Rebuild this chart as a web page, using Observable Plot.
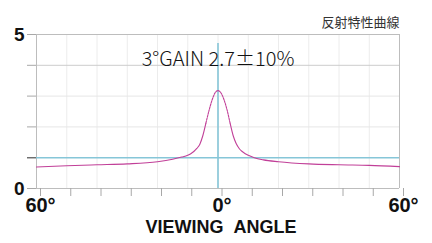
<!DOCTYPE html>
<html><head><meta charset="utf-8">
<script src="https://cdn.jsdelivr.net/npm/d3@7"></script>
<script src="https://cdn.jsdelivr.net/npm/@observablehq/plot@0.6"></script>
<style>body{margin:0;background:#fff}svg{display:block}</style>
</head><body>
<div id="chart"></div>
<script>
const angles = [-60,-50,-40,-30,-20,-15,-12,-10,-9,-8,-7,-6,-5,-4,-3,-2,-1,0,1,2,3,4,5,6,7,8,9,10,12,15,20,30,40,50,60];
const gains  = [0.70,0.74,0.77,0.80,0.87,0.95,1.02,1.08,1.13,1.2,1.3,1.44,1.72,2.12,2.52,2.86,3.1,3.18,3.1,2.88,2.55,2.12,1.72,1.46,1.3,1.2,1.13,1.08,1.0,0.93,0.87,0.80,0.77,0.75,0.71];
const xTicks = [-60,-50,-40,-30,-20,-10,0,10,20,30,40,50,60];
const xLabelTicks = [-60,0,60];
const yTicks = [0,1,2,3,4,5];
const yLabelTicks = [0,5];
const refGain = 1;
const refAngle = 0;
const titleText = "3°GAIN 2.7±10%";
const cornerText = "反射特性曲線";
const xLabel = "VIEWING\u00a0\u00a0ANGLE";

const data = angles.map((a,i)=>({a, g: gains[i]}));
const outerLeft = data.filter(d=>d.a<=-4);
const outerRight = data.filter(d=>d.a>=4);
const inner = data.filter(d=>d.a>=-4 && d.a<=4);

const magenta = "#c13f98";
const cyan = "#86c6d8";

const chart = Plot.plot({
  width: 432, height: 243,
  marginLeft: 36, marginRight: 33, marginTop: 34, marginBottom: 55,
  x: {domain: [-60, 60]},
  y: {domain: [0, 5]},
  style: {fontFamily: "'Liberation Sans', Arial, sans-serif", background: "#fff"},
  marks: [
    Plot.ruleX(xTicks.filter(d=>Math.abs(d)!==60), {stroke: "#ececec", strokeWidth: 1}),
    Plot.ruleY([2,3], {stroke: "#e6e6e6", strokeWidth: 1}),
    Plot.ruleY([4], {stroke: "#cccccc", strokeWidth: 1}),
    Plot.ruleY([0,5], {stroke: "#bdbdbd", strokeWidth: 1}),
    Plot.ruleX([-60,60], {stroke: "#bdbdbd", strokeWidth: 1}),
    Plot.axisY({ticks: yTicks, tickSize: 9, tickPadding: 3, stroke: "#a8a8a8",
      tickFormat: d => yLabelTicks.includes(d) ? String(d) : "",
      fontSize: 19, fontWeight: "bold", fill: "#111", label: null}),
    Plot.axisY({ticks: [refGain], tickSize: 9, stroke: "#6e6e6e", strokeWidth: 1.4,
      tickFormat: () => "", label: null}),
    Plot.axisX({ticks: xTicks, tickSize: 8, tickPadding: 1, stroke: "#a8a8a8",
      tickFormat: d => xLabelTicks.includes(d) ? Math.abs(d) + "°" : "",
      fontSize: 20, fontWeight: "bold", fill: "#111", dx: 4, label: null}),
    Plot.ruleY([refGain], {stroke: cyan, strokeWidth: 1.6}),
    Plot.ruleX([refAngle], {y1: 0, y2: 5, stroke: cyan, strokeWidth: 1.6, insetBottom: -9}),
    Plot.line(outerLeft, {x: "a", y: "g", stroke: magenta, strokeWidth: 1.1, curve: "monotone-x"}),
    Plot.line(outerRight, {x: "a", y: "g", stroke: magenta, strokeWidth: 1.1, curve: "monotone-x"}),
    Plot.line(inner, {x: "a", y: "g", stroke: magenta, strokeWidth: 1.1, curve: "monotone-x", strokeDasharray: "2,1"}),
    Plot.text([titleText], {frameAnchor: "top", lineAnchor: "bottom", dy: 31,
      fontSize: 20, fill: "#111", fontFamily: "'Noto Sans CJK JP', 'Open Sans', sans-serif", fontWeight: 300}),
    Plot.text([cornerText], {frameAnchor: "top-right", textAnchor: "end", lineAnchor: "bottom", dy: -8,
      fontSize: 13, fill: "#333", fontFamily: "'Noto Sans CJK JP', sans-serif"}),
    Plot.text([xLabel], {frameAnchor: "bottom", lineAnchor: "bottom", dy: 44, dx: 3,
      fontSize: 18, fontWeight: "bold", fill: "#111"})
  ]
});
document.getElementById("chart").appendChild(chart);
</script>
</body></html>
